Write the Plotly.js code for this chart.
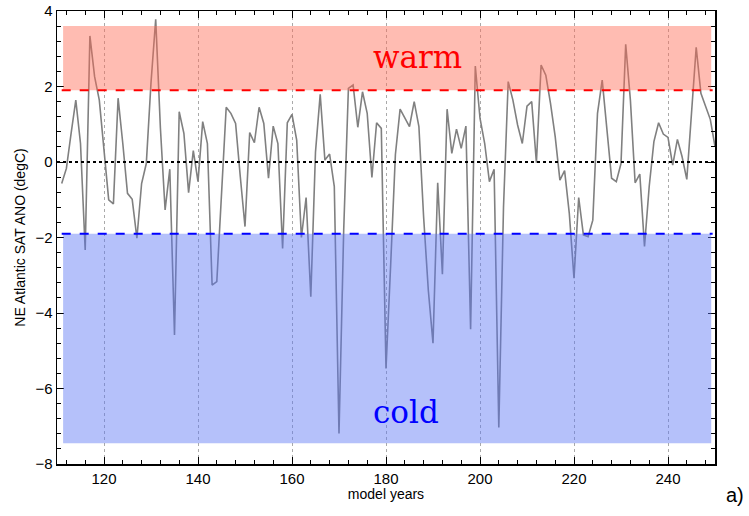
<!DOCTYPE html>
<html>
<head>
<meta charset="utf-8">
<script src="https://cdn.plot.ly/plotly-3.0.1.min.js"></script>
<style>html,body{margin:0;padding:0;background:#fff;}#chart{width:749px;height:516px;}</style>
</head>
<body>
<div id="chart"></div>
<script>
// model years 111..250
const years = [];
for (let y = 111; y <= 250; y++) years.push(y);

const anomaly = [
  -0.57, -0.17, 0.76, 1.64, 0.49, -2.33, 3.34, 2.26, 1.64, 0.30,   // 111-120
  -1.00, -1.11, 1.69, 0.49, -0.83, -0.99, -2.02, -0.57, -0.04, 2.10, // 121-130
  3.78, 0.90, -1.27, -0.19, -4.58, 1.33, 0.76, -0.81, 0.30, -0.52,  // 131-140
  1.07, 0.49, -3.26, -3.17, -0.90, 1.45, 1.29, 1.02, -0.39, -1.71,  // 141-150
  0.78, 0.51, 1.45, 1.02, -0.43, 0.95, 0.49, -2.29, 1.04, 1.26,     // 151-160
  0.58, -2.00, -0.94, -3.57, 0.27, 1.79, 0.05, 0.21, -0.65, -7.19,  // 161-170
  -1.80, 1.95, 2.04, 0.92, 1.86, 1.29, -0.41, 1.04, 0.89, -5.47,    // 171-180
  -2.70, 0.20, 1.40, 1.16, 0.94, 1.60, 0.94, -1.45, -3.39, -4.80,   // 181-190
  -0.55, -2.97, 1.40, 0.23, 0.87, 0.36, 0.95, -4.43, 2.54, 1.16,    // 191-200
  0.49, -0.52, -0.19, -7.03, -1.20, 2.13, 1.64, 0.98, 0.49, 1.48,   // 201-210
  1.60, -0.02, 2.57, 2.30, 1.55, 0.67, -0.48, -0.23, -1.36, -3.08,  // 211-220
  -0.94, -1.93, -1.98, -1.54, 1.29, 2.17, 0.94, -0.43, -0.52, -0.04,// 221-230
  3.12, 1.64, -0.55, -0.32, -2.24, -0.65, 0.54, 1.04, 0.74, 0.65,   // 231-240
  -0.08, 0.60, 0.14, -0.46, 1.29, 3.04, 1.82, 1.47, 1.13, 0.41      // 241-250
];

const warmThreshold = 1.9;
const coldThreshold = -1.9;
const warmTop = 3.6;
const coldBottom = -7.45;
const bandStart = 111.3;
const bandEnd = 249.2;
const xRange = [110, 250];
const yRange = [-8, 4];

const trace = {
  x: years, y: anomaly, type: 'scatter', mode: 'lines',
  line: {color: '#808080', width: 1.6}, hoverinfo: 'skip', showlegend: false
};

const axisFont = {family: 'Liberation Sans, Arial, sans-serif', size: 15, color: '#000'};

const layout = {
  width: 749, height: 516,
  margin: {l: 57, r: 34, t: 11, b: 52},
  paper_bgcolor: '#fff', plot_bgcolor: '#fff',
  showlegend: false,
  xaxis: {
    range: xRange, tickmode: 'linear', tick0: 0, dtick: 20,
    ticks: 'inside', ticklen: 7, tickwidth: 1, tickcolor: '#000',
    minor: {dtick: 4, tick0: 0, ticks: 'inside', ticklen: 4, tickwidth: 1, tickcolor: '#000', showgrid: false},
    showgrid: true, gridcolor: '#aaa', griddash: 'dot', gridwidth: 1,
    showline: true, linecolor: '#000', linewidth: 1.5, mirror: 'allticks',
    zeroline: false, tickfont: axisFont,
    title: {text: 'model years', font: {family: 'Liberation Sans, Arial, sans-serif', size: 14, color: '#000'}, standoff: 2}
  },
  yaxis: {
    range: yRange, tickmode: 'linear', tick0: 0, dtick: 2,
    ticks: 'inside', ticklen: 7, tickwidth: 1, tickcolor: '#000',
    minor: {dtick: 0.4, tick0: 0, ticks: 'inside', ticklen: 4, tickwidth: 1, tickcolor: '#000', showgrid: false},
    showgrid: false, showline: true, linecolor: '#000', linewidth: 1.5, mirror: 'allticks',
    zeroline: false, tickfont: axisFont,
    title: {text: 'NE Atlantic SAT ANO (degC)', font: {family: 'Liberation Sans, Arial, sans-serif', size: 14, color: '#000'}, standoff: 6}
  },
  shapes: [
    {type: 'rect', xref: 'x', yref: 'y', x0: bandStart, x1: bandEnd, y0: warmThreshold, y1: warmTop,
     fillcolor: 'rgba(255,107,84,0.45)', line: {width: 0}, layer: 'above'},
    {type: 'rect', xref: 'x', yref: 'y', x0: bandStart, x1: bandEnd, y0: coldBottom, y1: coldThreshold,
     fillcolor: 'rgba(90,118,244,0.45)', line: {width: 0}, layer: 'above'},
    {type: 'line', xref: 'x', yref: 'y', x0: 111, x1: 249.5, y0: warmThreshold, y1: warmThreshold,
     line: {color: '#ff0000', width: 2, dash: 'dash'}, layer: 'above'},
    {type: 'line', xref: 'x', yref: 'y', x0: 111, x1: 249.5, y0: coldThreshold, y1: coldThreshold,
     line: {color: '#0000ff', width: 2, dash: 'dash'}, layer: 'above'},
    {type: 'line', xref: 'paper', yref: 'y', x0: 0, x1: 1, y0: 0, y1: 0,
     line: {color: '#000', width: 2, dash: 'dot'}, layer: 'above'}
  ],
  annotations: [
    {xref: 'x', yref: 'y', x: 186.7, y: 2.78, text: 'warm', showarrow: false,
     font: {family: 'DejaVu Serif, serif', size: 31, color: '#ff0000'}},
    {xref: 'x', yref: 'y', x: 184.2, y: -6.62, text: 'cold', showarrow: false,
     font: {family: 'DejaVu Serif, serif', size: 31, color: '#0000ff'}},
    {xref: 'paper', yref: 'paper', x: 1.03, y: -0.068, xanchor: 'center', yanchor: 'middle',
     text: 'a)', showarrow: false, font: {family: 'Liberation Sans, Arial, sans-serif', size: 20, color: '#000'}}
  ]
};

Plotly.newPlot('chart', [trace], layout, {staticPlot: true, displayModeBar: false});
</script>
</body>
</html>
